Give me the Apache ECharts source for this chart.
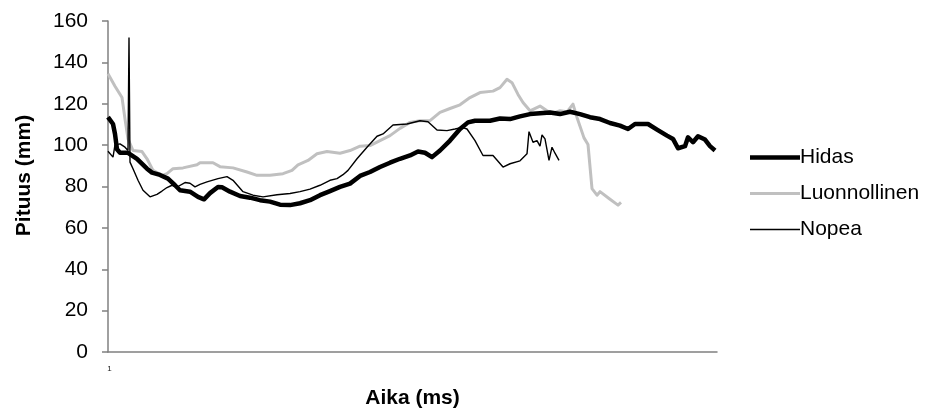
<!DOCTYPE html>
<html>
<head>
<meta charset="utf-8">
<script src="https://cdn.jsdelivr.net/npm/echarts@6/dist/echarts.min.js"></script>
<style>
  html, body { margin: 0; padding: 0; background: #fff; }
  #chart { width: 938px; height: 414px; }
</style>
</head>
<body>
<div id="chart"></div>
<script>
// Sample count on the time axis (one category per sample)
const sampleCount = 610;

// [sample number, length in mm]
const hidas = [[1,113.5],[3,113.4],[6,110.2],[8,105.4],[10,98],[13,96.3],[21,96.3],[30,93.4],[40,88.6],[45,86.7],[53,85.6],[61,83.8],[68,80.6],[73,78.2],[83,77.5],[91,75],[97,73.8],[103,76.8],[111,79.8],[115,79.6],[123,77.5],[133,75.4],[143,74.6],[153,73.4],[163,72.7],[173,71.2],[183,71],[193,71.9],[203,73.4],[213,75.8],[223,77.8],[233,79.8],[243,81.4],[253,85.1],[263,87],[273,89.4],[283,91.5],[293,93.4],[303,95],[311,96.9],[318,96.3],[325,94.2],[333,97.4],[343,102.2],[353,107.8],[361,111],[368,111.8],[383,111.8],[393,112.9],[403,112.6],[413,113.9],[423,115],[433,115.4],[443,115.8],[453,115],[463,116.1],[473,115],[483,113.5],[493,112.6],[503,110.7],[513,109.4],[521,107.8],[528,110.2],[541,110.2],[550,107.5],[560,104.6],[566,103],[571,98.5],[578,99.5],[581,103.8],[586,101.4],[591,104.3],[598,102.7],[603,99.5],[608,97.4]];

const luonnollinen = [[1,134.5],[8,128.5],[15,123],[18,112.6],[21,103],[26,97.4],[35,96.9],[40,93.4],[46,87.8],[55,85.4],[60,86.2],[66,88.6],[76,89],[90,90.5],[93,91.5],[106,91.5],[113,89.6],[126,89],[140,87],[150,85.4],[163,85.4],[176,86.2],[185,87.8],[191,90.5],[201,92.6],[210,95.8],[220,96.9],[233,96.1],[243,97.4],[253,99.5],[263,99.8],[273,102.2],[283,104.6],[293,108.1],[303,111],[313,111.8],[323,111.8],[333,115.8],[343,117.7],[353,119.5],[363,123],[373,125.4],[386,126.1],[393,127.8],[400,131.8],[405,130.2],[411,124.5],[416,120.6],[423,116.6],[433,118.9],[440,116.6],[446,115.5],[453,116.6],[460,116.1],[466,119.8],[470,113.4],[477,103.5],[481,100.3],[485,79],[490,75.8],[493,77.5],[502,74.2],[511,71],[514,72.3]];

const nopea = [[1,97],[3,96.6],[6,94.2],[8,100.1],[13,100.6],[18,99],[21,97.4],[22,152],[23,91.8],[26,88.6],[31,83],[36,78.2],[43,75],[50,76.2],[55,77.8],[60,79.5],[65,80.6],[71,80],[78,81.9],[83,81.6],[88,79.8],[93,81],[100,82.2],[111,83.8],[120,84.8],[126,83],[136,77.5],[146,75.8],[156,75],[170,76],[183,76.6],[193,77.5],[203,78.7],[213,80.6],[223,83],[230,83.8],[236,85.7],[241,87.8],[250,93.4],[260,99],[270,104.3],[276,105.4],[286,109.7],[300,110.2],[313,111.8],[321,111.3],[330,107.3],[340,107],[348,107.8],[355,108.6],[360,107.8],[368,102.2],[376,95],[386,95],[396,89.4],[403,91],[413,92.4],[420,95.8],[422,106.5],[426,101.4],[430,102.2],[433,99.5],[435,104.9],[438,103],[442,92.6],[445,99],[448,96.1],[452,92.6]];

const yTicks = { min: 0, max: 160, step: 20 };

const categories = [];
for (let i = 1; i <= sampleCount; i++) categories.push(String(i));

// sample numbers start at 1, category indices at 0
const toIndex = arr => arr.map(p => [p[0] - 1, p[1]]);

const font = 'Liberation Sans, Arial, Helvetica, sans-serif';
const axisGray = '#808080';
const grayLine = '#c0c0c0';

// flat bar icons so the legend keys look like plain line segments
const barIcon = h => 'path://M0,0H50V' + h + 'H0Z';

const chart = echarts.init(document.getElementById('chart'), null, { renderer: 'canvas' });
chart.setOption({
  animation: false,
  backgroundColor: '#ffffff',
  grid: { left: 108, right: 221, top: 21, bottom: 59, containLabel: false },
  legend: {
    orient: 'vertical',
    left: 745,
    top: 142,
    itemWidth: 50,
    itemHeight: 22,
    itemGap: 15,
    symbolKeepAspect: true,
    textStyle: { fontFamily: font, fontSize: 21, color: '#000', padding: [0, 0, 0, -5] },
    data: [
      { name: 'Hidas', icon: barIcon(4.5), itemStyle: { color: '#000' } },
      { name: 'Luonnollinen', icon: barIcon(3), itemStyle: { color: grayLine } },
      { name: 'Nopea', icon: barIcon(1.5), itemStyle: { color: '#000' } }
    ]
  },
  xAxis: {
    type: 'category',
    data: categories,
    boundaryGap: false,
    name: 'Aika (ms)',
    nameLocation: 'middle',
    nameGap: 36,
    nameTextStyle: { fontFamily: font, fontSize: 21, fontWeight: 'bold', color: '#000' },
    axisLine: { lineStyle: { color: axisGray, width: 1.5 } },
    axisTick: { show: false },
    axisLabel: {
      interval: (idx) => idx === 0,
      fontFamily: font, fontSize: 8, color: '#222', margin: 13,
      padding: [0, 0, 0, 3]
    },
    splitLine: { show: false }
  },
  yAxis: {
    type: 'value',
    min: yTicks.min,
    max: yTicks.max,
    interval: yTicks.step,
    name: 'Pituus (mm)',
    nameLocation: 'middle',
    nameRotate: 90,
    nameGap: 73,
    nameTextStyle: { fontFamily: font, fontSize: 21, fontWeight: 'bold', color: '#000', padding: [0, 0, 0, 22] },
    axisLine: { show: true, lineStyle: { color: axisGray, width: 1.5 } },
    axisTick: { show: true, inside: false, length: 6, lineStyle: { color: axisGray, width: 1.5 } },
    axisLabel: { fontFamily: font, fontSize: 21, color: '#000', margin: 20 },
    splitLine: { show: false }
  },
  series: [
    {
      name: 'Hidas', type: 'line', data: toIndex(hidas), symbol: 'none',
      lineStyle: { color: '#000000', width: 4.5, join: 'round' },
      itemStyle: { color: '#000000' }, z: 3
    },
    {
      name: 'Luonnollinen', type: 'line', data: toIndex(luonnollinen), symbol: 'none',
      lineStyle: { color: grayLine, width: 3, join: 'round' },
      itemStyle: { color: grayLine }, z: 2
    },
    {
      name: 'Nopea', type: 'line', data: toIndex(nopea), symbol: 'none',
      lineStyle: { color: '#000000', width: 1.4 },
      itemStyle: { color: '#000000' }, z: 4
    }
  ]
});
</script>
</body>
</html>
